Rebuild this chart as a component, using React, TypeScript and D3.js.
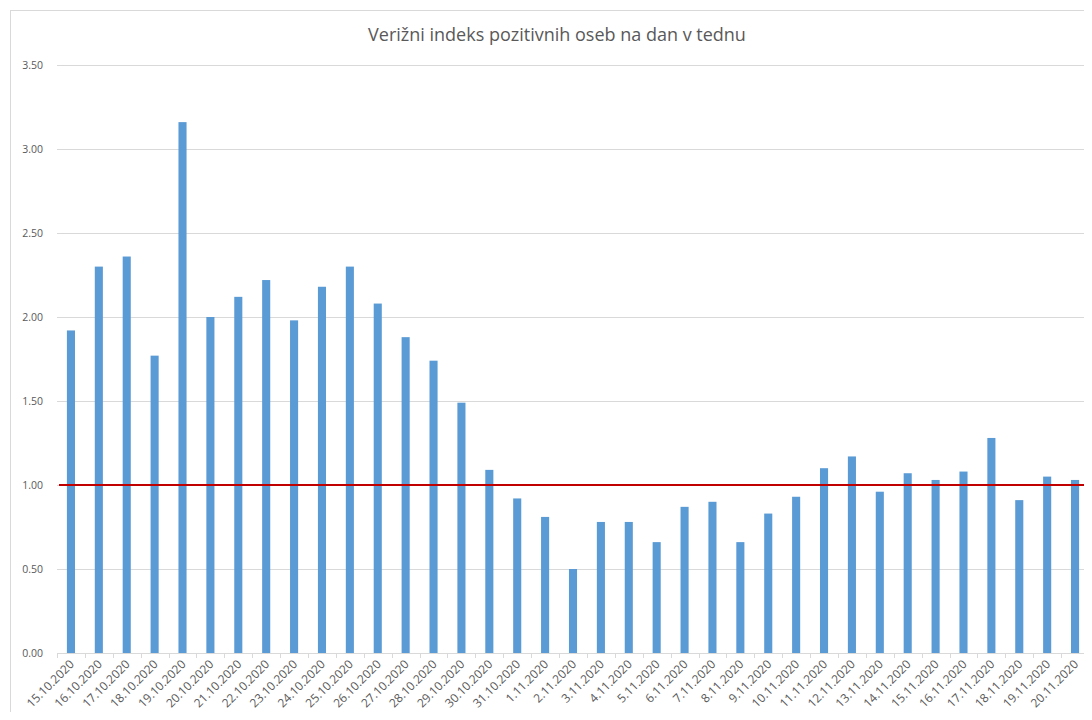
import React from 'react';
import * as d3 from 'd3';

const dates = [
  '15.10.2020', '16.10.2020', '17.10.2020', '18.10.2020', '19.10.2020', '20.10.2020',
  '21.10.2020', '22.10.2020', '23.10.2020', '24.10.2020', '25.10.2020', '26.10.2020',
  '27.10.2020', '28.10.2020', '29.10.2020', '30.10.2020', '31.10.2020', '1.11.2020',
  '2.11.2020', '3.11.2020', '4.11.2020', '5.11.2020', '6.11.2020', '7.11.2020',
  '8.11.2020', '9.11.2020', '10.11.2020', '11.11.2020', '12.11.2020', '13.11.2020',
  '14.11.2020', '15.11.2020', '16.11.2020', '17.11.2020', '18.11.2020', '19.11.2020',
  '20.11.2020'
];

const indexValues = [
  1.92, 2.30, 2.36, 1.77, 3.16, 2.00,
  2.12, 2.22, 1.98, 2.18, 2.30, 2.08,
  1.88, 1.74, 1.49, 1.09, 0.92, 0.81,
  0.50, 0.78, 0.78, 0.66, 0.87, 0.90,
  0.66, 0.83, 0.93, 1.10, 1.17, 0.96,
  1.07, 1.03, 1.08, 1.28, 0.91, 1.05,
  1.03
];

const yTicks = [0, 0.5, 1, 1.5, 2, 2.5, 3, 3.5];
const referenceLevel = 1.0;
const title = 'Verižni indeks pozitivnih oseb na dan v tednu';

const W = 1092;
const H = 720;
const margin = { top: 65, right: 3, bottom: 67, left: 57 };
const font = "'Open Sans', 'Liberation Sans', sans-serif";
const textColor = '#595959';

export default function App() {
  const innerW = W - margin.left - margin.right;
  const innerH = H - margin.top - margin.bottom;

  const x = d3.scaleBand<string>().domain(dates).range([0, innerW]).paddingInner(0).paddingOuter(0);
  const y = d3.scaleLinear().domain([0, 3.5]).range([innerH, 0]);
  const barW = x.bandwidth() * 0.29;

  return (
    <div style={{ margin: -8 }}>
      <svg width={W} height={H} style={{ display: 'block', overflow: 'hidden', background: '#fff' }}>
        <rect x={10.5} y={10.5} width={1200} height={900} fill="#fff" stroke="#d9d9d9" />
        <text x={557} y={41} textAnchor="middle" fill={textColor} style={{ fontFamily: font, fontSize: '18px' }}>
          {title}
        </text>
        <g transform={`translate(${margin.left}, ${margin.top})`}>
          {/* grid */}
          {yTicks.map(t => (
            <g key={t}>
              {t > 0 && (
                <line x1={0} x2={innerW} y1={Math.round(y(t)) + 0.5} y2={Math.round(y(t)) + 0.5} stroke="#d9d9d9" />
              )}
              <text x={-14} y={y(t) + 4} textAnchor="end" fill={textColor} style={{ fontFamily: font, fontSize: '10.5px' }}>
                {t.toFixed(2)}
              </text>
            </g>
          ))}

          {/* bars */}
          {dates.map((d, i) => (
            <rect
              key={d}
              x={(x(d) as number) + x.bandwidth() / 2 - barW / 2}
              y={y(indexValues[i])}
              width={barW}
              height={innerH - y(indexValues[i])}
              fill="#5b9bd5"
            />
          ))}

          {/* x axis */}
          <line x1={0} x2={innerW} y1={Math.round(innerH) + 0.5} y2={Math.round(innerH) + 0.5} stroke="#d9d9d9" />
          {dates.map(d => (
            <line
              key={`tk-${d}`}
              x1={Math.round(x(d) as number) + 0.5}
              x2={Math.round(x(d) as number) + 0.5}
              y1={innerH}
              y2={innerH + 5}
              stroke="#d9d9d9"
            />
          ))}
          <line x1={innerW - 0.5} x2={innerW - 0.5} y1={innerH} y2={innerH + 5} stroke="#d9d9d9" />

          {dates.map(d => (
            <text
              key={`lb-${d}`}
              transform={`translate(${(x(d) as number) + x.bandwidth() / 2 + 4}, ${innerH + 12}) rotate(-45)`}
              textAnchor="end"
              fill={textColor}
              style={{ fontFamily: font, fontSize: '12px' }}
            >
              {d}
            </text>
          ))}

          {/* reference line */}
          <line x1={2} x2={innerW - 1} y1={y(referenceLevel)} y2={y(referenceLevel)} stroke="#c00000" strokeWidth={2.2} />
        </g>
      </svg>
    </div>
  );
}
